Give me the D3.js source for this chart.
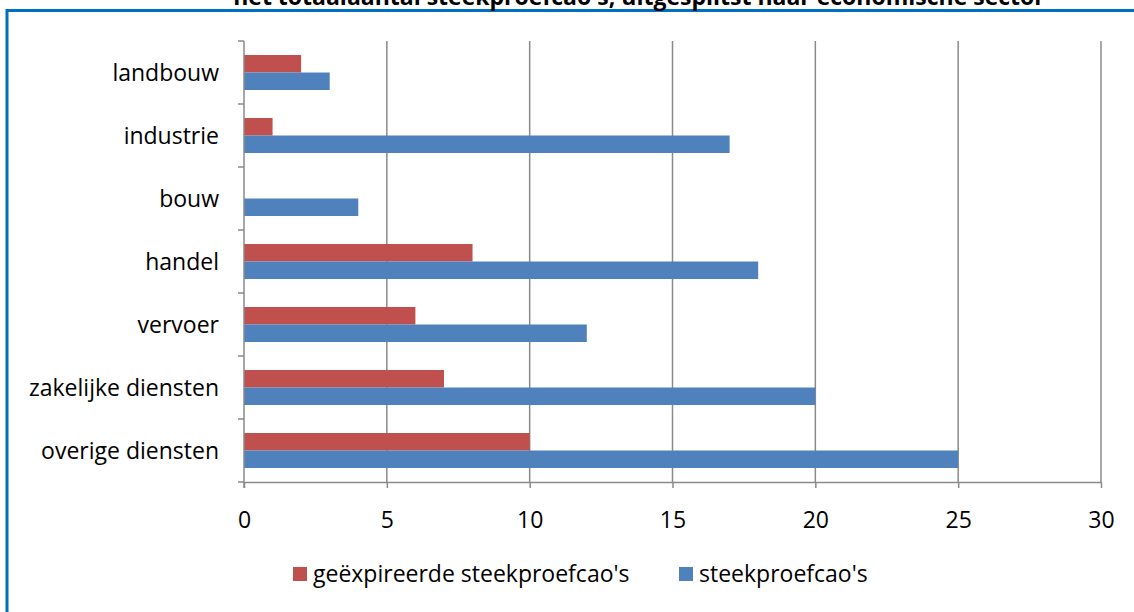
<!DOCTYPE html>
<html>
<head>
<meta charset="utf-8">
<script src="https://cdn.jsdelivr.net/npm/d3@7"></script>
<style>
  html, body { margin: 0; padding: 0; background: #fff; }
  svg { display: block; }
  text { font-family: "Open Sans", "Noto Sans", sans-serif; fill: #000; }
</style>
</head>
<body>
<svg id="chart" width="1134" height="612"></svg>
<script>
const categories = ["landbouw", "industrie", "bouw", "handel", "vervoer", "zakelijke diensten", "overige diensten"];
const seriesNames = ["geëxpireerde steekproefcao's", "steekproefcao's"];
const expiredValues = [2, 1, 0, 8, 6, 7, 10];
const sampleValues = [3, 17, 4, 18, 12, 20, 25];
const xTicks = [0, 5, 10, 15, 20, 25, 30];
const seriesColors = ["#C0504D", "#4F81BD"];
const title = "het totaalaantal steekproefcao's, uitgesplitst naar economische sector";

(function () {
const svg = d3.select("#chart");
const pLeft = 244, pRight = 1101, pTop = 41, pBottom = 482;
const gridColor = "#8a8a8a";

// frame
svg.append("line").attr("x1", 7).attr("x2", 1134).attr("y1", 10.5).attr("y2", 10.5)
  .attr("stroke", "#0070C0").attr("stroke-width", 3);
svg.append("line").attr("x1", 7).attr("x2", 7).attr("y1", 9).attr("y2", 612)
  .attr("stroke", "#0070C0").attr("stroke-width", 3);

// title (clipped at top, as in the reference)
svg.append("text").attr("x", 639).attr("y", 5).attr("text-anchor", "middle")
  .style("font-weight", "bold").style("font-size", "23px").text(title);

const x = d3.scaleLinear().domain([0, 30]).range([pLeft, pRight]);
const y = d3.scaleBand().domain(categories).range([pTop, pBottom]).padding(0);
const y1 = d3.scaleBand().domain(seriesNames).range([0, y.bandwidth()]).paddingInner(0).paddingOuter(0.8);

// gridlines
svg.append("g").selectAll("line").data(xTicks.filter(d => d > 0)).join("line")
  .attr("x1", d => x(d)).attr("x2", d => x(d)).attr("y1", pTop).attr("y2", pBottom)
  .attr("stroke", gridColor).attr("stroke-width", 1.5);

// bars
const data = categories.map((c, i) => ({cat: c, vals: [expiredValues[i], sampleValues[i]]}));
const g = svg.append("g");
data.forEach(d => {
  seriesNames.forEach((s, j) => {
    if (d.vals[j] > 0) {
      g.append("rect")
        .attr("x", x(0)).attr("y", y(d.cat) + y1(s))
        .attr("width", x(d.vals[j]) - x(0)).attr("height", y1.bandwidth())
        .attr("fill", seriesColors[j]);
    }
  });
});

// x axis
const xAxis = d3.axisBottom(x).tickValues(xTicks).tickSize(6).tickSizeOuter(0).tickPadding(24);
const xg = svg.append("g").attr("transform", `translate(0,${pBottom})`).call(xAxis);
xg.select(".domain").attr("stroke", gridColor).attr("stroke-width", 1.5);
xg.selectAll(".tick line").attr("stroke", gridColor).attr("stroke-width", 1.5);
xg.selectAll(".tick text").style("font-size", "23px").style("font-family", "'Open Sans', sans-serif").attr("fill", "#000");

// y axis: ticks at band boundaries
const yg = svg.append("g");
yg.append("line").attr("x1", pLeft).attr("x2", pLeft).attr("y1", pTop).attr("y2", pBottom + 6)
  .attr("stroke", gridColor).attr("stroke-width", 1.5);
const boundaries = categories.map(c => y(c)).concat([pBottom]);
yg.selectAll("line.tk").data(boundaries).join("line").attr("class", "tk")
  .attr("x1", pLeft - 6).attr("x2", pLeft).attr("y1", d => d).attr("y2", d => d)
  .attr("stroke", gridColor).attr("stroke-width", 1.5);
yg.selectAll("text").data(categories).join("text")
  .attr("x", 219).attr("y", d => y(d) + y.bandwidth() / 2).attr("dy", "0.35em")
  .attr("text-anchor", "end").style("font-size", "23px").text(d => d);

// legend
const legendX = [293, 679];
const lg = svg.append("g");
seriesNames.forEach((s, j) => {
  lg.append("rect").attr("x", legendX[j]).attr("y", 567).attr("width", 14).attr("height", 14)
    .attr("fill", seriesColors[j]);
  lg.append("text").attr("x", legendX[j] + 20).attr("y", 574).attr("dy", "0.35em")
    .style("font-size", "23px").text(s);
});
})();
</script>
</body>
</html>
